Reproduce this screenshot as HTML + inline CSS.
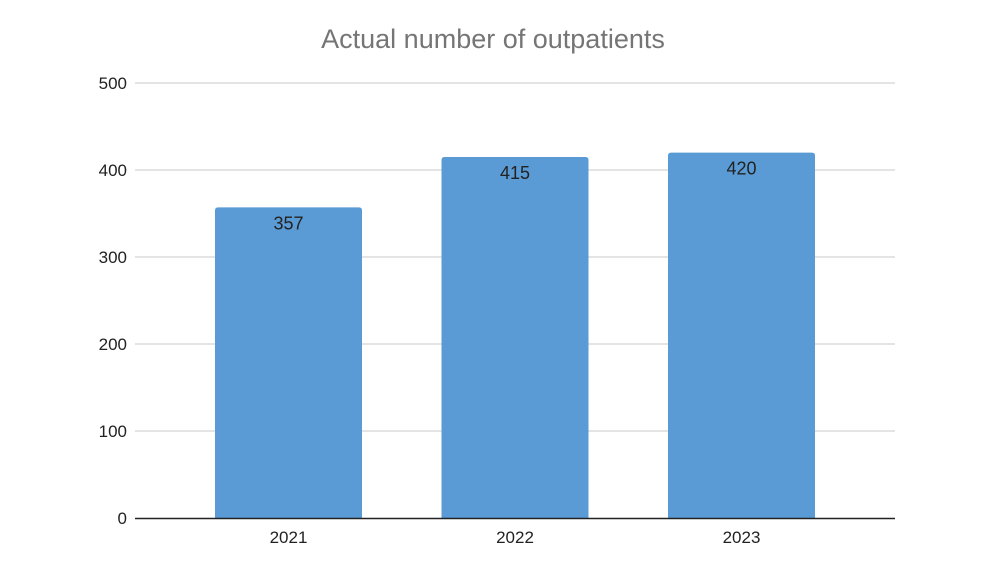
<!DOCTYPE html>
<html><head><meta charset="utf-8"><style>
body{margin:0;background:#fff;}
svg{display:block;font-family:"Liberation Sans","Noto Sans CJK JP",sans-serif;}
</style></head><body>
<svg id="chart" width="1000" height="572">
<text x="493" y="48" text-anchor="middle" font-size="27" fill="#757575">Actual number of outpatients</text>
<g id="grid"></g><g id="bars"></g><g id="xlabels"></g>
<line x1="135" x2="895" y1="518.5" y2="518.5" stroke="#222" stroke-width="1.5"/>
</svg>
<script>
const categories=["2021","2022","2023"];
const values=[357,415,420];
const yTicks=[0,100,200,300,400,500];
const svg=document.getElementById('chart');
const NS="http://www.w3.org/2000/svg";
const y0=518,yTop=83,maxV=500;
function yScale(v){return y0-(v/maxV)*(y0-yTop);}
function xCenter(i){return 288.5+i*226.5;}
const bw=147;
function mk(t,a,p,txt){const e=document.createElementNS(NS,t);for(const k in a)e.setAttribute(k,a[k]);if(txt!==undefined)e.textContent=txt;document.getElementById(p).appendChild(e);return e;}
yTicks.forEach(t=>{
 const y=yScale(t);
 if(t>0){const l=mk('line',{x1:135,x2:895,y1:y,y2:y,stroke:'#c8c8c8','stroke-width':1},'grid');
 
 }
 const tx=mk('text',{x:127,y:y+6,'text-anchor':'end','font-size':17,fill:'#222'},'grid',String(t));
 
 
});
values.forEach((v,i)=>{
 const x=xCenter(i)-bw/2,y=yScale(v),h=y0-y;
 const p=mk('path',{d:`M${x},${y0} V${y+3} Q${x},${y} ${x+3},${y} H${x+bw-3} Q${x+bw},${y} ${x+bw},${y+3} V${y0} Z`,fill:'#5b9bd5'},'bars');
 
 
 const t=mk('text',{x:xCenter(i),y:y+22,'text-anchor':'middle','font-size':18,fill:'#222'},'bars',String(v));
 
 
 const c=mk('text',{x:xCenter(i),y:543,'text-anchor':'middle','font-size':17,fill:'#222'},'xlabels',categories[i]);
 
 
});
</script>
</body></html>
